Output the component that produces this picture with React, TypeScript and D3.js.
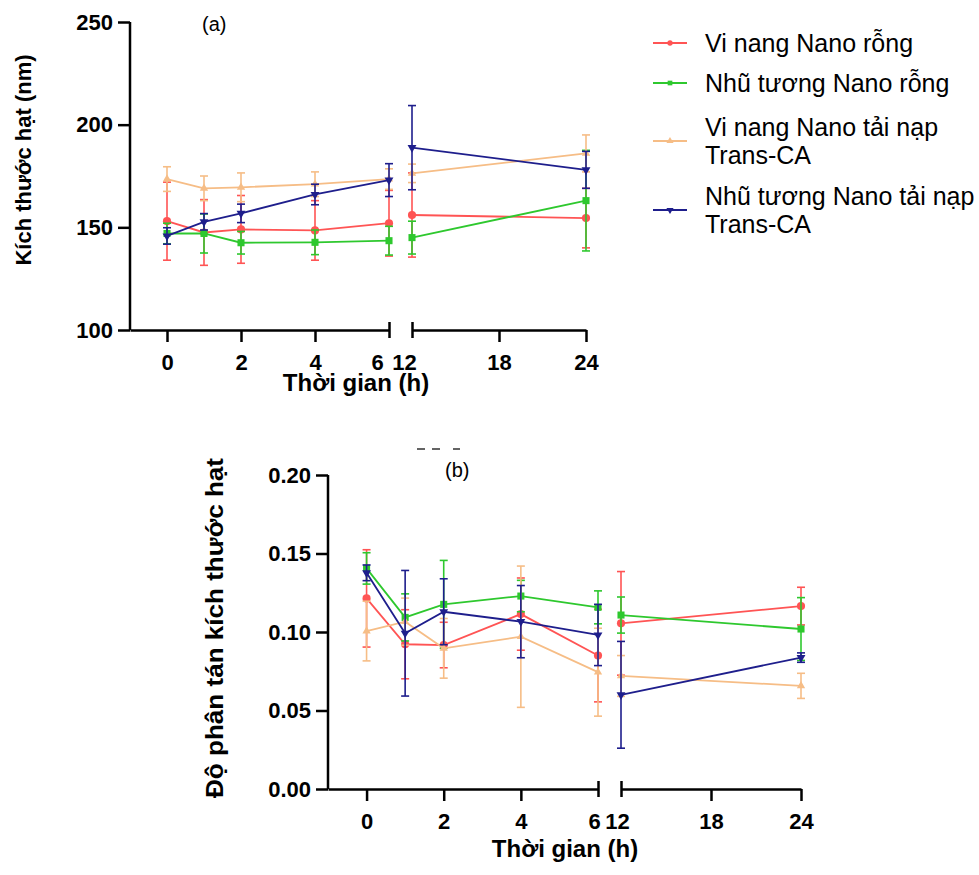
import * as d3 from 'd3';
import { useEffect, useRef } from 'react';

// time points (h)
const times = [0, 1, 2, 4, 6, 12, 24];
const ticksEarly = [0, 2, 4, 6];
const ticksLate = [12, 18, 24];

const seriesNames = [
  ['Vi nang Nano rỗng'],
  ['Nhũ tương Nano rỗng'],
  ['Vi nang Nano tải nạp', 'Trans-CA'],
  ['Nhũ tương Nano tải nạp', 'Trans-CA'],
];
const seriesColors = ['#ff5454', '#2ec82e', '#f6bd86', '#1e1e8c'];

// (a) particle size, nm
const sizeViNangRong = [153, 147.5, 149, 148.5, 152, 156, 154.5];
const sizeViNangRongErr = [19, 16, 16.5, 14.5, 16, 20.5, 14.5];
const sizeNhuTuongRong = [147, 147, 142.5, 142.7, 143.5, 145, 163];
const sizeNhuTuongRongErr = [5, 9.5, 5.5, 6, 7, 8, 24.5];
const sizeViNangTai = [173.5, 169, 169.5, 171, 173.5, 176.3, 186];
const sizeViNangTaiErr = [6, 6, 7, 6, 5, 4.5, 9];
const sizeNhuTuongTai = [145.8, 152.7, 156.8, 166, 173, 188.8, 178];
const sizeNhuTuongTaiErr = [4, 4, 4.5, 5, 8, 20.5, 9];
const sizeTicks = [100, 150, 200, 250];

// (b) polydispersity index
const pdiViNangRong = [0.1214, 0.0922, 0.0917, 0.1114, 0.085, 0.1055, 0.1165];
const pdiViNangRongErr = [0.031, 0.022, 0.0145, 0.023, 0.0295, 0.033, 0.012];
const pdiNhuTuongRong = [0.1405, 0.1093, 0.1176, 0.1229, 0.1157, 0.1108, 0.1019];
const pdiNhuTuongRongErr = [0.01, 0.015, 0.028, 0.01, 0.0105, 0.0115, 0.02];
const pdiViNangTai = [0.1006, 0.1066, 0.0896, 0.097, 0.0744, 0.072, 0.0657];
const pdiViNangTaiErr = [0.019, 0.015, 0.019, 0.045, 0.028, 0.013, 0.008];
const pdiNhuTuongTai = [0.1377, 0.0992, 0.1129, 0.1066, 0.0981, 0.06, 0.0837];
const pdiNhuTuongTaiErr = [0.005, 0.04, 0.021, 0.023, 0.0195, 0.034, 0.003];
const pdiTicks = [0, 0.05, 0.1, 0.15, 0.2];

const FONT = '"Liberation Sans", Arial, sans-serif';

const App = () => {
  const ref = useRef(null);

  useEffect(() => {
    const svg = d3.select(ref.current);
    svg.selectAll('*').remove();

    const symbols = [
      d3.symbol().type(d3.symbolCircle).size(52),
      d3.symbol().type(d3.symbolSquare).size(50),
      d3.symbol().type(d3.symbolTriangle).size(30),
      d3.symbol().type(d3.symbolTriangle).size(34),
    ];
    const symbolRotate = [0, 0, 0, 180];

    const drawPanel = (cfg) => {
      const g = svg.append('g');
      const y = d3.scaleLinear().domain(cfg.yDomain).range([cfg.bottom, cfg.top]);
      const xA = d3.scaleLinear().domain([-1, 6]).range([cfg.left, cfg.breakA]);
      const xB = d3.scaleLinear().domain([12, 24]).range([cfg.breakB, cfg.right]);
      const xPos = (t) => (t <= 6 ? xA(t) : xB(t));

      // y axis
      const yAxis = g.append('g')
        .attr('transform', `translate(${cfg.left},0)`)
        .call(d3.axisLeft(y).tickValues(cfg.yTicks).tickSize(12).tickSizeOuter(0).tickPadding(5)
          .tickFormat(cfg.yFormat));
      yAxis.select('.domain').attr('d', `M0,${cfg.top}V${cfg.bottom}`);

      // x axis, two segments with a break
      const xAxisA = g.append('g')
        .attr('transform', `translate(0,${cfg.bottom})`)
        .call(d3.axisBottom(xA).tickValues(ticksEarly).tickSize(12).tickSizeOuter(0).tickPadding(12)
          .tickFormat(d3.format('d')));
      xAxisA.selectAll('.tick').filter(d => d === 6).select('line').attr('y1', -8).attr('y2', 8);
      xAxisA.selectAll('.tick').filter(d => d === 6).select('text').attr('dx', cfg.dx6);

      const xAxisB = g.append('g')
        .attr('transform', `translate(0,${cfg.bottom})`)
        .call(d3.axisBottom(xB).tickValues(ticksLate).tickSize(12).tickSizeOuter(0).tickPadding(12)
          .tickFormat(d3.format('d')));
      xAxisB.selectAll('.tick').filter(d => d === 12).select('line').attr('y1', -8).attr('y2', 8);
      xAxisB.selectAll('.tick').filter(d => d === 12).select('text').attr('dx', cfg.dx12);

      [yAxis, xAxisA, xAxisB].forEach(ax => {
        ax.select('.domain').attr('stroke', '#000').attr('stroke-width', 2.5);
        ax.selectAll('.tick line').attr('stroke', '#000').attr('stroke-width', 2.5);
        ax.selectAll('.tick text')
          .attr('fill', '#000')
          .style('font-family', FONT)
          .style('font-size', '22px')
          .style('font-weight', 'bold');
      });

      // series
      cfg.series.forEach((s, i) => {
        const color = seriesColors[i];
        const pts = times.map((t, k) => ({ t, v: s.mean[k], e: s.err[k] }));
        const sg = g.append('g');

        // error bars
        pts.forEach(p => {
          const x = xPos(p.t);
          sg.append('line').attr('x1', x).attr('x2', x)
            .attr('y1', y(p.v - p.e)).attr('y2', y(p.v + p.e))
            .attr('stroke', color).attr('stroke-width', 1.6);
          [p.v - p.e, p.v + p.e].forEach(v => {
            sg.append('line').attr('x1', x - 4).attr('x2', x + 4)
              .attr('y1', y(v)).attr('y2', y(v))
              .attr('stroke', color).attr('stroke-width', 1.6);
          });
        });

        const line = d3.line().x(d => xPos(d.t)).y(d => y(d.v));
        [pts.filter(p => p.t <= 6), pts.filter(p => p.t >= 12)].forEach(seg => {
          sg.append('path').datum(seg).attr('d', line)
            .attr('fill', 'none').attr('stroke', color).attr('stroke-width', 1.8);
        });

        sg.selectAll('path.mark').data(pts).enter().append('path')
          .attr('class', 'mark')
          .attr('d', symbols[i])
          .attr('transform', d => `translate(${xPos(d.t)},${y(d.v)}) rotate(${symbolRotate[i]})`)
          .attr('fill', color);
      });

      // axis titles
      const yt = g.append('text')
        .attr('transform', `translate(${cfg.yTitleX},${cfg.yTitleY}) rotate(-90)`)
        .attr('text-anchor', 'middle')
        .style('font-family', FONT).style('font-size', `${cfg.yTitleSize}px`).style('font-weight', 'bold')
        .text(cfg.yTitle);
      if (cfg.yTitleLength) {
        yt.attr('textLength', cfg.yTitleLength).attr('lengthAdjust', 'spacingAndGlyphs');
      }

      g.append('text')
        .attr('x', cfg.xTitleX).attr('y', cfg.xTitleY)
        .attr('text-anchor', 'middle')
        .style('font-family', FONT).style('font-size', '24px').style('font-weight', 'bold')
        .text('Thời gian (h)');

      g.append('text')
        .attr('x', cfg.tagX).attr('y', cfg.tagY)
        .style('font-family', FONT).style('font-size', '20px')
        .text(cfg.tag);
    };

    drawPanel({
      left: 130, breakA: 389, breakB: 412, right: 586, top: 22, bottom: 330,
      yDomain: [100, 250], yTicks: sizeTicks, yFormat: d3.format('d'),
      dx6: -12, dx12: -8,
      series: [
        { mean: sizeViNangRong, err: sizeViNangRongErr },
        { mean: sizeNhuTuongRong, err: sizeNhuTuongRongErr },
        { mean: sizeViNangTai, err: sizeViNangTaiErr },
        { mean: sizeNhuTuongTai, err: sizeNhuTuongTaiErr },
      ],
      yTitle: 'Kích thước hạt (nm)', yTitleX: 31, yTitleY: 160, yTitleSize: 22,
      xTitleX: 356, xTitleY: 391,
      tag: '(a)', tagX: 202, tagY: 31,
    });

    drawPanel({
      left: 328, breakA: 598, breakB: 621, right: 801, top: 475, bottom: 789,
      yDomain: [0, 0.2], yTicks: pdiTicks, yFormat: d3.format('.2f'),
      dx6: -4, dx12: -4,
      series: [
        { mean: pdiViNangRong, err: pdiViNangRongErr },
        { mean: pdiNhuTuongRong, err: pdiNhuTuongRongErr },
        { mean: pdiViNangTai, err: pdiViNangTaiErr },
        { mean: pdiNhuTuongTai, err: pdiNhuTuongTaiErr },
      ],
      yTitle: 'Độ phân tán kích thước hạt', yTitleX: 223, yTitleY: 628, yTitleSize: 24, yTitleLength: 340,
      xTitleX: 565, xTitleY: 857,
      tag: '(b)', tagX: 445, tagY: 477,
    });

    // leftover marks above (b)
    [[417, 425], [432, 440], [453, 460]].forEach(([a, b]) => {
      svg.append('line').attr('x1', a).attr('x2', b).attr('y1', 449).attr('y2', 449)
        .attr('stroke', '#222').attr('stroke-width', 1.4);
    });

    // legend
    const legendY = [43, 83, 141, 210];
    const legend = svg.append('g').attr('transform', 'translate(653,0)');
    seriesNames.forEach((lines, i) => {
      const item = legend.append('g').attr('transform', `translate(0,${legendY[i]})`);
      item.append('line').attr('x1', 0).attr('x2', 34).attr('y1', 0).attr('y2', 0)
        .attr('stroke', seriesColors[i]).attr('stroke-width', 2);
      item.append('path')
        .attr('d', d3.symbol().type(i === 1 ? d3.symbolSquare : i === 0 ? d3.symbolCircle : d3.symbolTriangle).size(22))
        .attr('transform', `translate(17,0) rotate(${i === 3 ? 180 : 0})`)
        .attr('fill', seriesColors[i]);
      const offset = lines.length === 1 ? 0 : -14;
      lines.forEach((txt, k) => {
        item.append('text')
          .attr('x', 52).attr('y', offset + k * 28)
          .attr('dy', '0.35em')
          .style('font-family', FONT).style('font-size', '25px')
          .text(txt);
      });
    });
  }, []);

  return (
    <svg ref={ref} width={979} height={875}
      style={{ position: 'absolute', left: 0, top: 0, display: 'block', background: '#fff' }} />
  );
};

export default App;
